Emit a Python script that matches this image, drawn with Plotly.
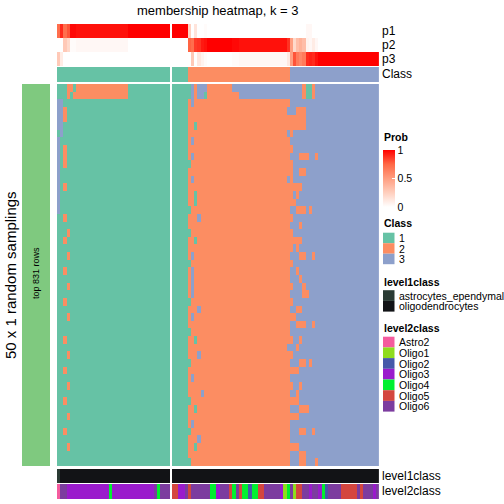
import plotly.graph_objects as go

W = H = 504

# ---------------- data ----------------
N_ROWS = 50  # random samplings (rows of the body)

# consensus class of each column, run-length encoded (left block, right block)
CLASS_LEFT_RUNS = [(1, 35)]
CLASS_RIGHT_RUNS = [(1, 5), (2, 32), (3, 28)]

# membership probabilities, run-length encoded
P1_LEFT_RUNS = [(0.72, 1), (0.90, 1), (0.72, 1), (0.80, 1), (0.98, 2), (0.96, 16), (1.0, 13)]
P2_LEFT_RUNS = [(0.0, 1), (0.0, 1), (0.28, 1), (0.20, 1), (0.02, 2), (0.04, 16), (0.0, 13)]
P3_LEFT_RUNS = [(0.28, 1), (0.10, 1), (0.0, 1), (0.0, 1), (0.0, 2), (0.0, 16), (0.0, 13)]

P1_RIGHT_RUNS = [(1.0, 5), (0.24, 1), (0.0, 1), (0.14, 1), (0.0, 1), (0.0, 1), (0.02, 1), (0.0, 8),
                 (0.0, 2), (0.0, 15), (0.0, 1), (0.0, 1), (0.0, 1), (0.0, 1), (0.0, 1), (0.0, 1),
                 (0.04, 1), (0.04, 1), (0.0, 1), (0.0, 1), (0.0, 19)]
P2_RIGHT_RUNS = [(0.0, 5), (0.76, 1), (0.72, 1), (0.86, 1), (0.88, 1), (0.94, 1), (0.96, 1), (1.0, 8),
                 (0.98, 2), (0.96, 15), (0.88, 1), (0.50, 1), (0.20, 1), (0.34, 1), (0.40, 1), (0.34, 1),
                 (0.06, 1), (0.04, 1), (0.10, 1), (0.04, 1), (0.0, 19)]
P3_RIGHT_RUNS = [(0.0, 5), (0.0, 1), (0.28, 1), (0.0, 1), (0.12, 1), (0.06, 1), (0.02, 1), (0.0, 8),
                 (0.02, 2), (0.04, 15), (0.12, 1), (0.50, 1), (0.80, 1), (0.66, 1), (0.60, 1), (0.66, 1),
                 (0.90, 1), (0.92, 1), (0.90, 1), (0.96, 1), (1.0, 19)]

# body: rows whose class differs from the column's consensus class
# (first col, last col, class, rows)
DEV_LEFT = [
    (0, 0, 3, [2, 3, 4, 5, 7, 8, 9, 10, 11, 12, 13, 14, 15, 16]),
    (1, 1, 3, [2, 3, 4, 5, 6]),
    (2, 2, 2, [3, 4, 8, 9, 10, 13, 17, 20, 24, 28, 33, 37, 41, 45]),
    (3, 3, 2, [0, 1, 19, 22, 26, 30, 35, 39, 43, 47]),
    (4, 4, 2, [0]),
    (5, 5, 2, [1]),
    (6, 21, 2, [0, 1]),
]
DEV_RIGHT = [
    (5, 5, 1, [0, 1, 10, 16, 19, 23, 28, 32, 36, 41, 45, 49]),
    (6, 6, 3, [0, 1, 2, 7, 9, 12, 22, 24, 25, 26, 27, 30, 38, 44]),
    (7, 7, 1, [5, 14, 15, 20, 33, 42, 47]),
    (8, 8, 3, [0, 1, 17, 29, 35, 46]),
    (9, 9, 3, [0, 1, 40]),
    (10, 10, 3, [0]),
    (10, 10, 1, [1]),
    (19, 20, 3, [0]),
    (21, 35, 3, [0, 1]),
    (36, 36, 3, [0, 1, 3, 6, 12, 34]),
    (37, 37, 2, [4, 5, 6, 8, 10, 11, 12, 13, 14, 15, 17, 19, 20, 21, 23, 26, 28, 30, 33, 35, 37, 39, 41, 43, 47]),
    (38, 38, 2, [4, 5, 13, 15, 20, 30, 37, 41, 43, 47]),
    (39, 39, 2, [3, 4, 5, 13, 14, 16, 20, 21, 24, 29, 31, 34, 37, 40, 41, 43, 47]),
    (40, 40, 2, [3, 4, 5, 9, 11, 13, 16, 18, 20, 22, 25, 29, 31, 33, 36, 39, 42, 45, 48, 49]),
    (41, 41, 2, [0, 1, 3, 4, 5, 9, 11, 16, 22, 26, 27, 31, 36, 42, 45, 48, 49]),
    (42, 43, 1, [0, 1]),
    (42, 42, 2, [9, 27, 42]),
    (43, 43, 2, [16, 36]),
    (44, 44, 2, [0, 1, 22, 31, 45]),
    (45, 45, 2, [9, 49]),
]

LEVEL1_NAMES = ["astrocytes_ependymal", "oligodendrocytes"]
LEVEL1_COLORS = ["#2A3B34", "#121316"]
L1_LEFT_RUNS = [("astrocytes_ependymal", 1), ("oligodendrocytes", 34)]
L1_RIGHT_RUNS = [("oligodendrocytes", 65)]

LEVEL2_NAMES = ["Astro2", "Oligo1", "Oligo2", "Oligo3", "Oligo4", "Oligo5", "Oligo6"]
LEVEL2_COLORS = ["#F45C9E", "#8FDC1E", "#4658A9", "#9A1BCC", "#00F030", "#D4463F", "#7C3C9F"]
L2_LEFT_RUNS = [("Astro2", 1), ("Oligo6", 2), ("Oligo3", 13), ("Oligo4", 1), ("Oligo3", 13),
                ("Oligo6", 1), ("Oligo4", 1), ("Oligo6", 3)]
L2_RIGHT_RUNS = [("Oligo5", 2), ("Oligo3", 2), ("Oligo6", 1), ("Oligo5", 1), ("Oligo6", 6), ("Oligo4", 2),
                 ("Oligo3", 1), ("Oligo6", 3), ("Oligo5", 1), ("Oligo4", 1), ("Oligo6", 1), ("Oligo5", 1),
                 ("Oligo4", 2), ("Oligo2", 1), ("Oligo4", 2), ("Oligo5", 2), ("Oligo6", 5), ("Oligo3", 1),
                 ("Oligo1", 1), ("Oligo4", 1), ("Oligo6", 1), ("Oligo1", 1), ("Oligo5", 2), ("Oligo6", 2),
                 ("Oligo3", 1), ("Oligo6", 2), ("Oligo3", 1), ("Oligo4", 1), ("Oligo2", 1), ("Oligo6", 4),
                 ("Oligo5", 5), ("Oligo6", 1), ("Oligo5", 1), ("Oligo6", 3), ("Oligo3", 1), ("Oligo6", 1)]

CLASS_NAMES = ["1", "2", "3"]
CLASS_COLORS = ["#66C2A5", "#FC8D62", "#8DA0CB"]
PROB_SCALE = [[0.0, "#FFFFFF"], [0.25, "#FFCFBE"], [0.5, "#FF9E81"], [0.75, "#FF6846"], [1.0, "#FF0000"]]
BAR_COLOR = "#7FC97F"

FONT = "Liberation Sans, Arial, Helvetica, sans-serif"


# ---------------- helpers ----------------
def expand(runs):
    out = []
    for v, n in runs:
        out += [v] * n
    return out


def body(class_runs, devs):
    cls = expand(class_runs)
    z = [list(cls) for _ in range(N_ROWS)]
    for c0, c1, k, rows in devs:
        for r in rows:
            for c in range(c0, c1 + 1):
                z[r][c] = k
    return z


def discrete(colors):
    n = len(colors)
    cs = []
    for i, c in enumerate(colors):
        cs += [[i / n, c], [(i + 1) / n, c]]
    return cs


def px(v):
    return v / W


def py(v):
    return 1 - v / H


class_left = expand(CLASS_LEFT_RUNS)
class_right = expand(CLASS_RIGHT_RUNS)
body_left = body(CLASS_LEFT_RUNS, DEV_LEFT)
body_right = body(CLASS_RIGHT_RUNS, DEV_RIGHT)

l1_left = [LEVEL1_NAMES.index(v) for v in expand(L1_LEFT_RUNS)]
l1_right = [LEVEL1_NAMES.index(v) for v in expand(L1_RIGHT_RUNS)]
l2_left = [LEVEL2_NAMES.index(v) for v in expand(L2_LEFT_RUNS)]
l2_right = [LEVEL2_NAMES.index(v) for v in expand(L2_RIGHT_RUNS)]

fig = go.Figure()

cls_cs = discrete(CLASS_COLORS)
l1_cs = discrete(LEVEL1_COLORS)
l2_cs = discrete(LEVEL2_COLORS)

for xa, p1, p2, p3, cl, bd, l1, l2, show in [
    ("x", P1_LEFT_RUNS, P2_LEFT_RUNS, P3_LEFT_RUNS, class_left, body_left, l1_left, l2_left, False),
    ("x2", P1_RIGHT_RUNS, P2_RIGHT_RUNS, P3_RIGHT_RUNS, class_right, body_right, l1_right, l2_right, True),
]:
    fig.add_trace(go.Heatmap(
        z=[expand(p1), expand(p2), expand(p3)], xaxis=xa, yaxis="y",
        colorscale=PROB_SCALE, zmin=0, zmax=1, hoverinfo="skip", showscale=show,
        colorbar=dict(x=px(383), xanchor="left", y=py(150), yanchor="top",
                      len=56.5, lenmode="pixels", thickness=12, thicknessmode="pixels",
                      outlinewidth=0, xpad=0, ypad=0, tickvals=[0, 0.5, 1], ticktext=["0", "0.5", "1"],
                      ticks="inside", ticklen=3, tickcolor="white",
                      tickfont=dict(family=FONT, size=10.5, color="black")),
    ))
    fig.add_trace(go.Heatmap(z=[cl], xaxis=xa, yaxis="y2", colorscale=cls_cs, zmin=0.5, zmax=3.5,
                             showscale=False, hoverinfo="skip"))
    fig.add_trace(go.Heatmap(z=bd, xaxis=xa, yaxis="y3", colorscale=cls_cs, zmin=0.5, zmax=3.5,
                             showscale=False, hoverinfo="skip"))
    fig.add_trace(go.Heatmap(z=[l1], xaxis=xa, yaxis="y4", colorscale=l1_cs, zmin=-0.5,
                             zmax=len(LEVEL1_COLORS) - 0.5, showscale=False, hoverinfo="skip"))
    fig.add_trace(go.Heatmap(z=[l2], xaxis=xa, yaxis="y5", colorscale=l2_cs, zmin=-0.5,
                             zmax=len(LEVEL2_COLORS) - 0.5, showscale=False, hoverinfo="skip"))

# left split bar
fig.add_trace(go.Heatmap(z=[[1]], x=[-0.5, 0.5], y=[-0.5, N_ROWS - 0.5], xaxis="x3", yaxis="y3",
                         colorscale=[[0, BAR_COLOR], [1, BAR_COLOR]], showscale=False, hoverinfo="skip"))

ax = dict(visible=False, showgrid=False, zeroline=False, fixedrange=True)
fig.update_layout(
    width=W, height=H, margin=dict(l=0, r=0, t=0, b=0),
    paper_bgcolor="white", plot_bgcolor="white", showlegend=False,
    xaxis=dict(domain=[px(57), px(170.3)], range=[-0.5, len(class_left) - 0.5], **ax),
    xaxis2=dict(domain=[px(171.9), px(379)], range=[-0.5, len(class_right) - 0.5], **ax),
    xaxis3=dict(domain=[px(22), px(50)], range=[-0.5, 0.5], **ax),
    yaxis=dict(domain=[py(66), py(24)], range=[2.5, -0.5], **ax),
    yaxis2=dict(domain=[py(82), py(67)], range=[0.5, -0.5], **ax),
    yaxis3=dict(domain=[py(466), py(84)], range=[N_ROWS - 0.5, -0.5], **ax),
    yaxis4=dict(domain=[py(483), py(469)], range=[0.5, -0.5], **ax),
    yaxis5=dict(domain=[py(499), py(484)], range=[0.5, -0.5], **ax),
)

ann = []


def text(x, y, s, size=12, anchor="left", angle=0, bold=False):
    ann.append(dict(x=px(x), y=py(y), xref="paper", yref="paper", text=f"<b>{s}</b>" if bold else s,
                    showarrow=False, xanchor=anchor, yanchor="middle", textangle=angle,
                    font=dict(family=FONT, size=size, color="black"), borderpad=0))


text(218, 10, "membership heatmap, k = 3", size=13, anchor="center")
for lab, yy in [("p1", 31), ("p2", 45), ("p3", 59), ("Class", 74), ("level1class", 476), ("level2class", 491)]:
    text(381, yy, lab, size=12)
text(10, 275, "50 x 1 random samplings", size=15, anchor="center", angle=-90)
text(36, 273, "top 831 rows", size=9, anchor="center", angle=-90)

# legends
shapes = []
LX0, LX1 = 383, 394.5
text(383, 137, "Prob", size=10.5, bold=True)

text(383, 223, "Class", size=10.5, bold=True)
for i, (nm, col) in enumerate(zip(CLASS_NAMES, CLASS_COLORS)):
    y0 = 232.7 + i * 10.5
    shapes.append(dict(type="rect", xref="paper", yref="paper", x0=px(LX0), x1=px(LX1),
                       y0=py(y0 + 10.5), y1=py(y0), fillcolor=col, line=dict(width=0)))
    text(398, y0 + 5.5, nm, size=10.5)

text(383, 282, "level1class", size=10.5, bold=True)
for i, (nm, col) in enumerate(zip(LEVEL1_NAMES, LEVEL1_COLORS)):
    y0 = 290.2 + i * 10.7
    shapes.append(dict(type="rect", xref="paper", yref="paper", x0=px(LX0), x1=px(LX1),
                       y0=py(y0 + 10.7), y1=py(y0), fillcolor=col, line=dict(width=0)))
    text(398, y0 + 5.5, nm, size=10.5)

text(383, 328, "level2class", size=10.5, bold=True)
for i, (nm, col) in enumerate(zip(LEVEL2_NAMES, LEVEL2_COLORS)):
    y0 = 336.7 + i * 10.7
    shapes.append(dict(type="rect", xref="paper", yref="paper", x0=px(LX0), x1=px(LX1),
                       y0=py(y0 + 10.7), y1=py(y0), fillcolor=col, line=dict(width=0)))
    text(398, y0 + 5.5, nm, size=10.5)

fig.update_layout(annotations=ann, shapes=shapes)
fig.write_html("out.html", config={"displayModeBar": False},
               post_script="document.body.style.margin='0px';document.body.style.overflow='hidden';")
